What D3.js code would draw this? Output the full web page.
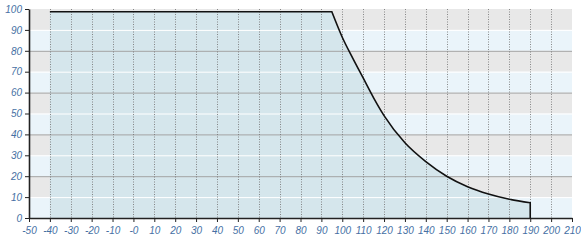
<!DOCTYPE html>
<html>
<head>
<meta charset="utf-8">
<script src="https://cdn.jsdelivr.net/npm/d3@7"></script>
<style>
  html, body { margin: 0; padding: 0; background: #fff; }
  svg { display: block; }
  .axis text { font-family: "Liberation Sans", Arial, sans-serif; font-size: 10px; font-style: italic; fill: #4670a4; }
  .axis path, .axis line { stroke: #222; }
</style>
</head>
<body>
<div id="chart"></div>
<script>
const WIDTH = 581;
const HEIGHT = 242;
const MARGIN = { top: 9, right: 9, bottom: 24, left: 29 };

// tick values and labels
const xTicks = [-50, -40, -30, -20, -10, 0, 10, 20, 30, 40, 50, 60, 70, 80, 90, 100, 110, 120, 130, 140, 150, 160, 170, 180, 190, 200, 210];
const xTickLabels = ['-50', '-40', '-30', '-20', '-10', '-0', '10', '20', '30', '40', '50', '60', '70', '80', '90', '100', '110', '120', '130', '140', '150', '160', '170', '180', '190', '200', '210'];
const yTicks = [0, 10, 20, 30, 40, 50, 60, 70, 80, 90, 100];
const gridX = [-40, -30, -20, -10, 0, 10, 20, 30, 40, 50, 60, 70, 80, 90, 100, 110, 120, 130, 140, 150, 160, 170, 180, 190, 200];

// flat part of the curve
const flatX = [-40, 95];
const flatY = [98.7, 98.7];
// falling part of the curve
const fallX = [95, 100, 105, 110, 115, 120, 130, 140, 150, 160, 170, 180, 190];
const fallY = [98.7, 86.5, 76.5, 67, 57.5, 49, 36, 27, 20, 15, 11.5, 9, 7.3];

const svg = d3.select('#chart').append('svg')
	.attr('width', WIDTH)
	.attr('height', HEIGHT);

const x = d3.scaleLinear().domain([-50, 210]).range([MARGIN.left, WIDTH - MARGIN.right]);
const y = d3.scaleLinear().domain([0, 100]).range([HEIGHT - MARGIN.bottom, MARGIN.top]);

// background bands, grey / light blue every 10
const bands = d3.range(0, 100, 10);
svg.append('g').selectAll('rect')
	.data(bands)
	.enter()
	.append('rect')
		.attr('x', x(-50))
		.attr('width', x(210) - x(-50))
		.attr('y', d => y(d + 10))
		.attr('height', d => y(d) - y(d + 10))
		.attr('fill', d => (d / 10) % 2 === 1 ? '#e8e8e8' : '#eaf4fa');

// area + line path built from two segments so the corner stays sharp
const flatPts = flatX.map((v, i) => [x(v), y(flatY[i])]);
const fallPts = fallX.map((v, i) => [x(v), y(fallY[i])]);
const flatPath = d3.line().curve(d3.curveLinear)(flatPts);
const fallPath = d3.line().curve(d3.curveMonotoneX)(fallPts).replace(/^M/, 'L');
const endX = fallX[fallX.length - 1];
const linePath = flatPath + fallPath + 'L' + x(endX) + ',' + y(0);
const areaPath = linePath + 'L' + x(flatX[0]) + ',' + y(0) + 'Z';

svg.append('path')
	.attr('d', areaPath)
	.attr('fill', '#d5e6ec');

// horizontal grid lines: white on odd tens, grey on even
svg.append('g').selectAll('line')
	.data(yTicks.filter(d => d > 0 && d < 100))
	.enter()
	.append('line')
		.attr('x1', x(-50))
		.attr('x2', x(210))
		.attr('y1', d => y(d) + 0.5)
		.attr('y2', d => y(d) + 0.5)
		.attr('stroke', d => (d / 10) % 2 === 1 ? '#ffffff' : '#a3a3a3')
		.attr('stroke-width', 1);

// vertical dotted grid
svg.append('g').selectAll('line')
	.data(gridX)
	.enter()
	.append('line')
		.attr('x1', d => Math.round(x(d)) + 0.5)
		.attr('x2', d => Math.round(x(d)) + 0.5)
		.attr('y1', y(100))
		.attr('y2', y(0))
		.attr('stroke', '#6f6f6f')
		.attr('stroke-width', 1)
		.attr('stroke-dasharray', '1,1.5')
		.attr('opacity', 0.8);

// the curve
svg.append('path')
	.attr('d', linePath)
	.attr('fill', 'none')
	.attr('stroke', '#111')
	.attr('stroke-width', 1.6);

// axes
const xAxis = d3.axisBottom(x)
	.tickValues(xTicks)
	.tickFormat((d, i) => xTickLabels[i])
	.tickSize(4)
	.tickSizeOuter(0)
	.tickPadding(5);
svg.append('g')
	.attr('class', 'axis')
	.attr('transform', 'translate(0,' + y(0) + ')')
	.call(xAxis)
	.select('.domain').attr('stroke-width', 1.6);

const yAxis = d3.axisLeft(y)
	.tickValues(yTicks)
	.tickSize(4)
	.tickSizeOuter(0)
	.tickPadding(3);
svg.append('g')
	.attr('class', 'axis')
	.attr('transform', 'translate(' + x(-50) + ',0)')
	.call(yAxis)
	.select('.domain').attr('stroke-width', 1.6);
</script>
</body>
</html>
